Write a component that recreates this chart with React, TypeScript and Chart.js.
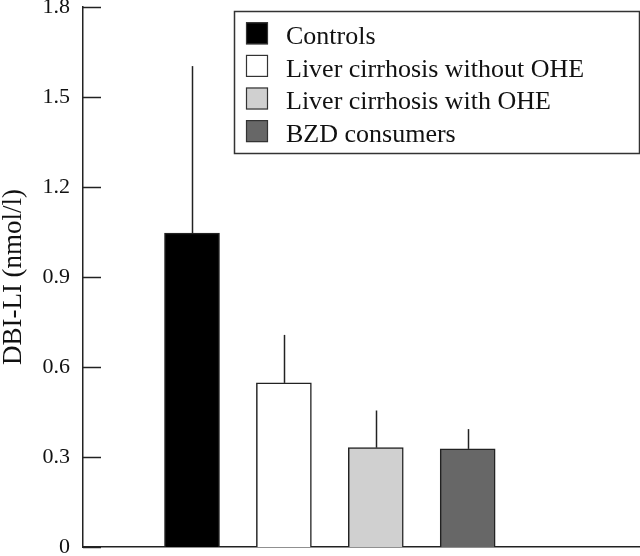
import React, { useEffect, useRef } from "react";
import { Chart, registerables } from "chart.js";

Chart.register(...registerables);

const categories = [
  "Controls",
  "Liver cirrhosis without OHE",
  "Liver cirrhosis with OHE",
  "BZD consumers",
];
const positions = [1, 2, 3, 4];
const means = [1.046, 0.547, 0.331, 0.327];
const sds = [0.557, 0.16, 0.124, 0.066];
const yTicks = [0, 0.3, 0.6, 0.9, 1.2, 1.5, 1.8];
const fills = ["#000000", "#ffffff", "#d0d0d0", "#676767"];
const yTitle = "DBI-LI (nmol/l)";

const FONT = "'Liberation Serif', 'Times New Roman', 'DejaVu Serif', serif";
const INK = "#222222";

const decorPlugin = {
  id: "decor",
  afterDatasetsDraw(chart: any) {
    const ctx = chart.ctx;
    const { left } = chart.chartArea;
    const xs = chart.scales.x;
    const ys = chart.scales.y;
    ctx.save();
    // inward tick marks
    ctx.strokeStyle = INK;
    ctx.lineWidth = 1.5;
    yTicks.forEach((v) => {
      const py = Math.round(ys.getPixelForValue(v)) + 0.5;
      ctx.beginPath();
      ctx.moveTo(left, py);
      ctx.lineTo(left + 18, py);
      ctx.stroke();
    });
    // error bars (upper only)
    positions.forEach((p, i) => {
      const px = Math.round(xs.getPixelForValue(p)) + 0.5;
      const y0 = ys.getPixelForValue(means[i]);
      const y1 = ys.getPixelForValue(means[i] + sds[i]);
      ctx.beginPath();
      ctx.moveTo(px, y0);
      ctx.lineTo(px, y1);
      ctx.stroke();
    });
    // legend box
    const bx = 234, by = 11, bw = 405, bh = 142;
    ctx.fillStyle = "#ffffff";
    ctx.fillRect(bx, by, bw, bh);
    ctx.strokeStyle = "#333333";
    ctx.lineWidth = 1.5;
    ctx.strokeRect(bx + 0.5, by + 0.5, bw, bh);
    ctx.font = `26px ${FONT}`;
    ctx.textBaseline = "alphabetic";
    ctx.textAlign = "left";
    categories.forEach((c, i) => {
      const cy = 33.3 + i * 32.6;
      const sx = 246, sw = 22;
      ctx.fillStyle = fills[i];
      ctx.fillRect(sx, cy - 11, sw, sw);
      ctx.strokeStyle = "#333333";
      ctx.lineWidth = 1.2;
      ctx.strokeRect(sx + 0.5, cy - 11 + 0.5, sw - 1, sw - 1);
      ctx.fillStyle = "#111111";
      ctx.fillText(c, 286, cy + 10.7);
    });
    ctx.restore();
  },
};

export default function App() {
  const ref = useRef<HTMLCanvasElement | null>(null);
  useEffect(() => {
    document.body.style.margin = "0";
    const canvas = ref.current;
    if (!canvas) return;
    const chart = new Chart(canvas, {
      type: "bar",
      data: {
        datasets: [
          {
            label: "DBI-LI",
            data: positions.map((x, i) => ({ x, y: means[i] })),
            backgroundColor: fills,
            borderColor: INK,
            borderWidth: 1.5,
            barThickness: 55,
          } as any,
        ],
      },
      options: {
        responsive: false,
        animation: false,
        layout: { padding: { top: 7, right: 0, left: 0, bottom: 0 } },
        plugins: {
          legend: { display: false },
          tooltip: { enabled: false },
        },
        scales: {
          x: {
            type: "linear",
            min: -0.186,
            max: 5.875,
            offset: false,
            grid: { display: false, drawTicks: false },
            ticks: { display: false },
            border: { display: true, color: INK, width: 1.5 },
            afterFit: (s: any) => {
              s.height = 9;
              s.paddingLeft = 0;
              s.paddingRight = 0;
            },
          },
          y: {
            min: 0,
            max: 1.8,
            grid: { display: false, drawTicks: false },
            border: { display: true, color: INK, width: 1.5 },
            afterBuildTicks: (s: any) => {
              s.ticks = yTicks.map((v) => ({ value: v }));
            },
            ticks: {
              padding: 13,
              color: "#111111",
              font: { family: FONT, size: 22 },
              callback: (v: any) => (Number(v) === 0 ? "0" : Number(v).toFixed(1)),
            },
            title: {
              display: true,
              text: yTitle,
              color: "#111111",
              font: { family: FONT, size: 27, lineHeight: 1 },
              padding: { top: 0, bottom: 0 },
            },
            afterFit: (s: any) => {
              s.width = 83;
              s.paddingTop = 0;
              s.paddingBottom = 0;
            },
          },
        },
      },
      plugins: [decorPlugin],
    });
    return () => chart.destroy();
  }, []);
  return (
    <div style={{ width: 640, height: 556 }}>
      <canvas ref={ref} width={640} height={556} style={{ display: "block" }} />
    </div>
  );
}
